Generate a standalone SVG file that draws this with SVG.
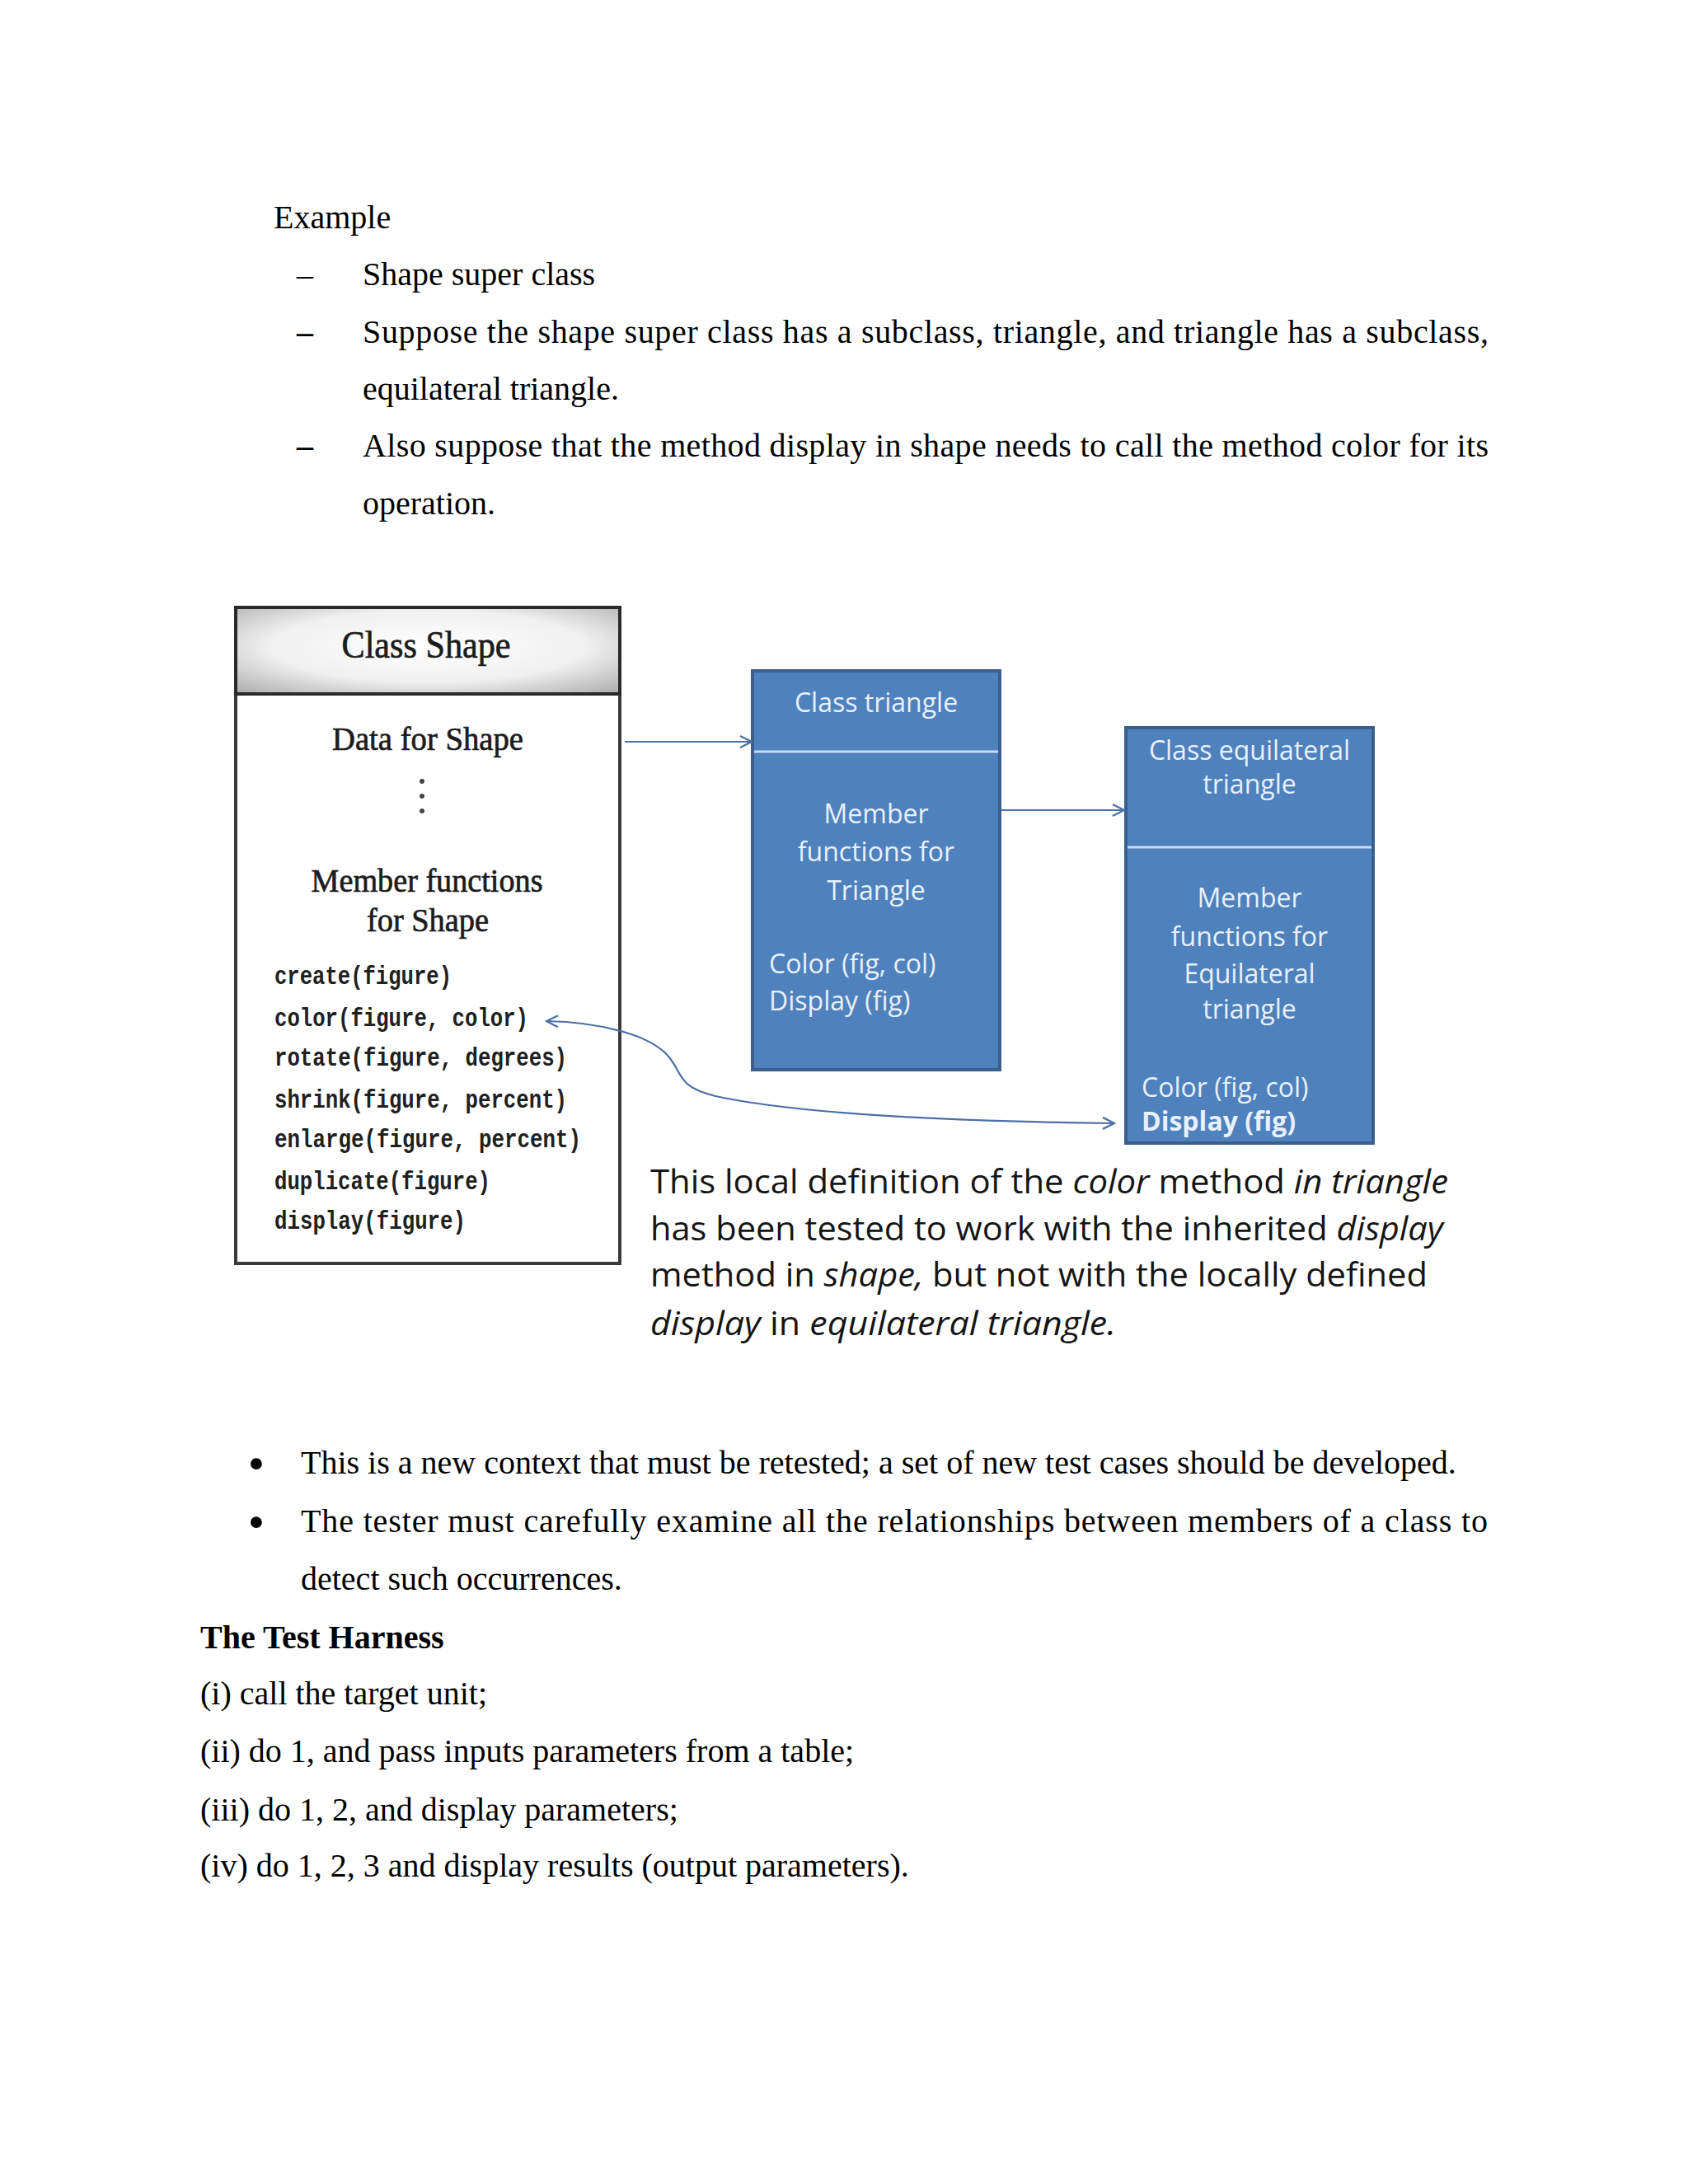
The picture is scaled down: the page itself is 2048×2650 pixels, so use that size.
<svg xmlns="http://www.w3.org/2000/svg" width="2048" height="2650" viewBox="0 0 2048 2650">
<style>
.body{font-family:"Liberation Serif","Times New Roman",serif;font-size:40px;fill:#000}
.bold{font-weight:bold}
.bul{font-family:"Liberation Serif","Times New Roman",serif;font-size:58px;fill:#000;text-anchor:middle}
.gara{font-family:"Liberation Serif","Times New Roman",serif;fill:#1c1c1c;stroke:#1c1c1c;stroke-width:0.7;text-anchor:middle}
.code{font-family:"Liberation Mono","DejaVu Sans Mono",monospace;font-size:31px;font-weight:bold;fill:#202020}
.bx{font-family:"Open Sans","Lato",sans-serif;font-size:32px;fill:#e8f0fb}
.mid{text-anchor:middle}
.cap{font-family:"Open Sans","Lato",sans-serif;font-size:40px;fill:#151515}
.it{font-style:italic}
.blue{fill:#4f81bd;stroke:#3a5f8f;stroke-width:4}
.div{stroke:#c8dcf2;stroke-width:3}
.conn{fill:none;stroke:#4d6fa6;stroke-width:2.2}
</style>
<defs>
<radialGradient id="hdr" cx="0.5" cy="0.45" r="0.75">
<stop offset="0" stop-color="#ffffff"/>
<stop offset="0.55" stop-color="#f0f0f0"/>
<stop offset="1" stop-color="#a8a8a8"/>
</radialGradient>
<marker id="ah" viewBox="0 0 20 20" refX="18" refY="10" markerWidth="20" markerHeight="20" markerUnits="userSpaceOnUse" orient="auto-start-reverse">
<path d="M4,3 L18,10 L4,17" fill="none" stroke="#4d6fa6" stroke-width="2.4"/>
</marker>
</defs>
<rect width="2048" height="2650" fill="#ffffff"/>

<g id="intro">
<text class="body" x="332" y="277">Example</text>
<text class="body" x="360" y="346">–</text>
<text class="body" x="440" y="346">Shape super class</text>
<text class="body bold" x="360" y="416">–</text>
<text class="body" x="440" y="416" textLength="1366" lengthAdjust="spacing">Suppose the shape super class has a subclass, triangle, and triangle has a subclass,</text>
<text class="body" x="440" y="485">equilateral triangle.</text>
<text class="body bold" x="360" y="554">–</text>
<text class="body" x="440" y="554" textLength="1366" lengthAdjust="spacing">Also suppose that the method display in shape needs to call the method color for its</text>
<text class="body" x="440" y="624">operation.</text>
</g>

<g id="class-shape">
<rect x="286" y="737" width="466" height="796" fill="#ffffff" stroke="#3a3a3a" stroke-width="4"/>
<rect x="286" y="737" width="466" height="105" fill="url(#hdr)" stroke="#2a2a2a" stroke-width="4"/>
<text class="gara" x="517" y="798" font-size="46" textLength="205" lengthAdjust="spacingAndGlyphs">Class Shape</text>
<text class="gara" x="519" y="910" font-size="40" textLength="232" lengthAdjust="spacingAndGlyphs">Data for Shape</text>
<circle cx="512" cy="948" r="3" fill="#444"/>
<circle cx="512" cy="966" r="3" fill="#444"/>
<circle cx="512" cy="984" r="3" fill="#444"/>
<text class="gara" x="518" y="1082" font-size="40" textLength="281" lengthAdjust="spacingAndGlyphs">Member functions</text>
<text class="gara" x="519" y="1130" font-size="40" textLength="148" lengthAdjust="spacingAndGlyphs">for Shape</text>
<text class="code" x="333" y="1194" textLength="215" lengthAdjust="spacingAndGlyphs">create(figure)</text>
<text class="code" x="333" y="1245" textLength="308" lengthAdjust="spacingAndGlyphs">color(figure, color)</text>
<text class="code" x="333" y="1293" textLength="355" lengthAdjust="spacingAndGlyphs">rotate(figure, degrees)</text>
<text class="code" x="333" y="1344" textLength="355" lengthAdjust="spacingAndGlyphs">shrink(figure, percent)</text>
<text class="code" x="333" y="1392" textLength="372" lengthAdjust="spacingAndGlyphs">enlarge(figure, percent)</text>
<text class="code" x="333" y="1443" textLength="262" lengthAdjust="spacingAndGlyphs">duplicate(figure)</text>
<text class="code" x="333" y="1491" textLength="232" lengthAdjust="spacingAndGlyphs">display(figure)</text>
</g>

<g id="class-triangle">
<rect class="blue" x="913" y="814" width="300" height="484"/>
<line class="div" x1="915" y1="912" x2="1211" y2="912"/>
<text class="bx mid" x="1063" y="864">Class triangle</text>
<text class="bx mid" x="1063" y="999">Member</text>
<text class="bx mid" x="1063" y="1045">functions for</text>
<text class="bx mid" x="1063" y="1092">Triangle</text>
<text class="bx" x="933" y="1181">Color (fig, col)</text>
<text class="bx" x="933" y="1226">Display (fig)</text>
</g>

<g id="class-equilateral">
<rect class="blue" x="1366" y="883" width="300" height="504"/>
<line class="div" x1="1368" y1="1028" x2="1664" y2="1028"/>
<text class="bx mid" x="1516" y="922">Class equilateral</text>
<text class="bx mid" x="1516" y="963">triangle</text>
<text class="bx mid" x="1516" y="1101">Member</text>
<text class="bx mid" x="1516" y="1148">functions for</text>
<text class="bx mid" x="1516" y="1193">Equilateral</text>
<text class="bx mid" x="1516" y="1236">triangle</text>
<text class="bx" x="1385" y="1331">Color (fig, col)</text>
<text class="bx" x="1385" y="1372" font-weight="bold">Display (fig)</text>
</g>

<g id="connectors">
<line class="conn" x1="758" y1="900" x2="912" y2="900" marker-end="url(#ah)"/>
<line class="conn" x1="1215" y1="983" x2="1364" y2="983" marker-end="url(#ah)"/>
<path class="conn" d="M663,1239 C725,1240 790,1255 812,1283 C830,1306 822,1318 868,1330 C960,1350 1120,1360 1352,1363" marker-start="url(#ah)" marker-end="url(#ah)"/>
</g>

<g id="caption">
<text class="cap" x="789" y="1448" textLength="968" lengthAdjust="spacingAndGlyphs">This local definition of the <tspan class="it">color</tspan> method <tspan class="it">in triangle</tspan></text>
<text class="cap" x="789" y="1505" textLength="962" lengthAdjust="spacingAndGlyphs">has been tested to work with the inherited <tspan class="it">display</tspan></text>
<text class="cap" x="789" y="1561" textLength="943" lengthAdjust="spacingAndGlyphs">method in <tspan class="it">shape,</tspan> but not with the locally defined</text>
<text class="cap" x="789" y="1620" textLength="565" lengthAdjust="spacingAndGlyphs"><tspan class="it">display</tspan> in <tspan class="it">equilateral triangle.</tspan></text>
</g>

<g id="outro">
<text class="bul" x="311" y="1795">•</text>
<text class="body" x="365" y="1788">This is a new context that must be retested; a set of new test cases should be developed.</text>
<text class="bul" x="311" y="1866">•</text>
<text class="body" x="365" y="1859" textLength="1440" lengthAdjust="spacing">The tester must carefully examine all the relationships between members of a class to</text>
<text class="body" x="365" y="1929">detect such occurrences.</text>
<text class="body bold" x="243" y="2000">The Test Harness</text>
<text class="body" x="243" y="2068">(i) call the target unit;</text>
<text class="body" x="243" y="2138">(ii) do 1, and pass inputs parameters from a table;</text>
<text class="body" x="243" y="2209">(iii) do 1, 2, and display parameters;</text>
<text class="body" x="243" y="2277">(iv) do 1, 2, 3 and display results (output parameters).</text>
</g>
</svg>
